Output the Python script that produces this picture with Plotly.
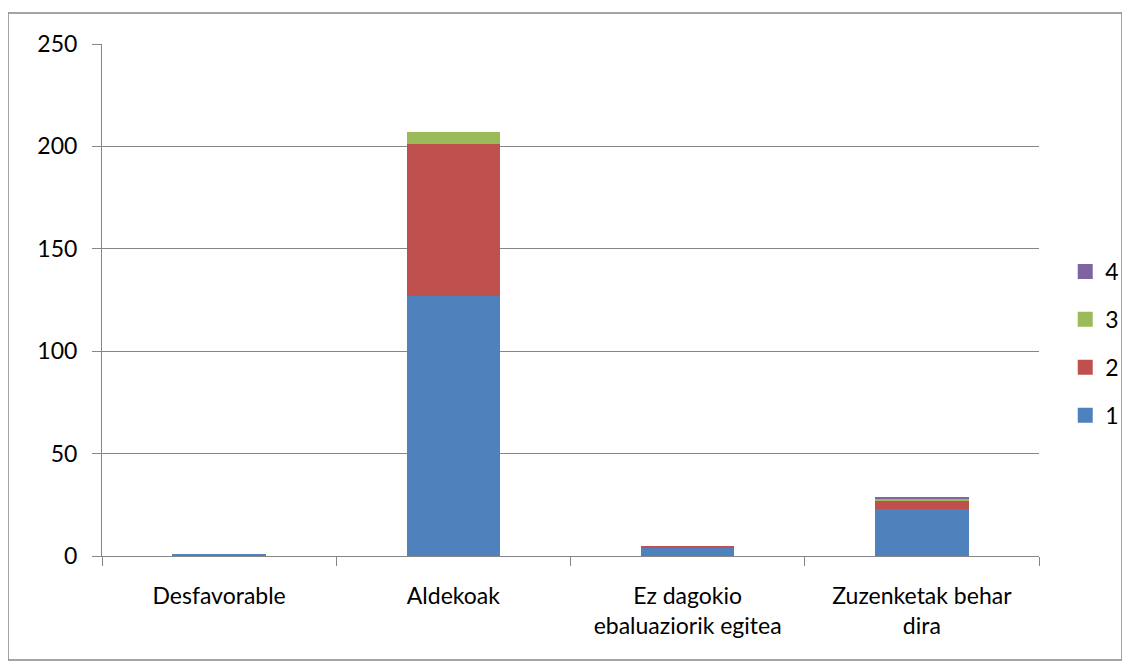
import plotly.graph_objects as go

categories = ["Desfavorable", "Aldekoak", "Ez dagokio<br>ebaluaziorik egitea", "Zuzenketak behar<br>dira"]
series_names = ["1", "2", "3", "4"]
s1 = [1, 127, 4, 23]
s2 = [0, 74, 1, 4]
s3 = [0, 6, 0, 1]
s4 = [0, 0, 0, 1]
colors = ["#4F81BD", "#C0504D", "#9BBB59", "#8064A2"]
y_ticks = [0, 50, 100, 150, 200, 250]

fig = go.Figure()
for name, vals, col in zip(series_names, [s1, s2, s3, s4], colors):
    fig.add_trace(go.Bar(x=categories, y=vals, name=name, marker_color=col,
                         marker_line_width=0, showlegend=False))
# legend entries with larger square swatches (top to bottom: 4, 3, 2, 1)
for name, col in reversed(list(zip(series_names, colors))):
    fig.add_trace(go.Scatter(x=[None], y=[None], mode="markers", name=name,
                             marker=dict(symbol="square", size=15, color=col),
                             legendgroup="g" + name, showlegend=True))

grid = "#868686"
fig.update_layout(
    barmode="stack",
    bargap=0.6,
    width=1122, height=658,
    margin=dict(l=94, r=91, t=36, b=110, autoexpand=False),
    paper_bgcolor="white", plot_bgcolor="white",
    font=dict(family="Lato, Liberation Sans, sans-serif", size=23, color="black"),
    showlegend=True,
    legend=dict(x=1.028, y=0.415, xanchor="left", yanchor="middle",
                traceorder="grouped", tracegroupgap=15,
                bgcolor="rgba(0,0,0,0)",
                font=dict(size=23), itemwidth=30),
    xaxis=dict(showline=True, linecolor=grid, linewidth=1, ticks="outside",
               tickson="boundaries", ticklen=9, tickcolor=grid, showgrid=False,
               ticklabelstandoff=19, tickfont=dict(size=23)),
    yaxis=dict(range=[0, 250], tickvals=y_ticks, showgrid=True, gridcolor=grid,
               gridwidth=1, showline=True, linecolor=grid, ticks="outside",
               ticklen=9, tickcolor=grid, zeroline=False, ticklabelstandoff=10,
               tickfont=dict(size=23)),
    shapes=[dict(type="rect", xref="paper", yref="paper",
                 x0=-0.1003, x1=1.0886, y0=-0.203, y1=1.0605,
                 line=dict(color=grid, width=1.5), fillcolor="rgba(0,0,0,0)")],
)
fig.write_html("out.html")
